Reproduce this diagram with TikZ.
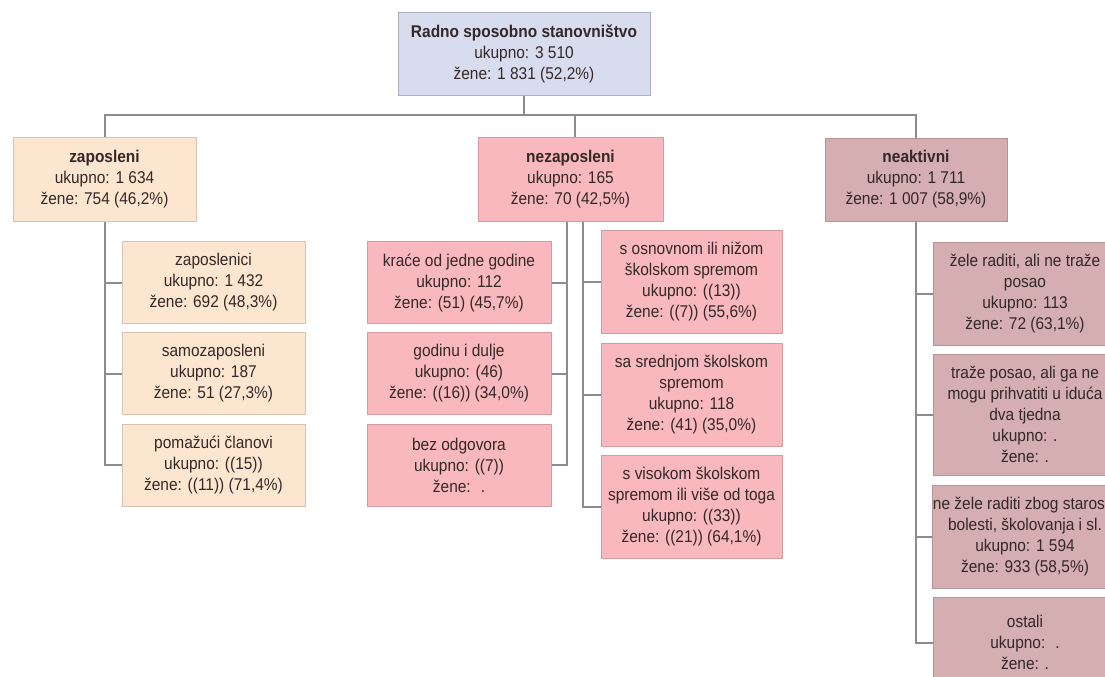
\documentclass[tikz,border=0pt]{standalone}
\usepackage{fontspec}
\setmainfont{Liberation Sans}[FakeStretch=0.91]
\definecolor{topfill}{RGB}{215,220,238}
\definecolor{zapfill}{RGB}{252,230,207}
\definecolor{nezfill}{RGB}{248,184,189}
\definecolor{neakfill}{RGB}{212,174,177}
\definecolor{ink}{RGB}{52,40,40}
\definecolor{linkgray}{RGB}{140,140,140}

\begin{document}
\begin{tikzpicture}[x=0.5pt, y=-0.5pt,
    every box/.style={align=center, inner sep=0pt, text=ink,
      line width=0.5pt, font=\fontsize{8.5}{10.5}\selectfont},
    box top/.style={every box, fill=topfill, draw=topfill!80!black,
      minimum width=126pt, minimum height=41.5pt},
    box zap/.style={every box, fill=zapfill, draw=zapfill!85!black},
    box nez/.style={every box, fill=nezfill, draw=nezfill!85!black},
    box neak/.style={every box, fill=neakfill, draw=neakfill!85!black},
    link/.style={draw=linkgray, line width=1pt}]
  \useasboundingbox (0,0) rectangle (1105,676);
  \coordinate (bus) at (0,115);

  % top and first level
  \node [box top] (top) at (524,53.5)
    {\textbf{Radno sposobno stanovništvo}\\ukupno: 3 510\\žene: 1 831 (52,2\%)};
  \node [box zap, minimum width=91.5pt, minimum height=42pt] (zap) at (104.5,179)
    {\textbf{zaposleni}\\ukupno: 1 634\\žene: 754 (46,2\%)};
  \node [box nez, minimum width=92.5pt, minimum height=42pt] (nez) at (570.5,179)
    {\textbf{nezaposleni}\\ukupno: 165\\žene: 70 (42,5\%)};
  \node [box neak, minimum width=91pt, minimum height=41.5pt] (neak) at (916,179.5)
    {\textbf{neaktivni}\\ukupno: 1 711\\žene: 1 007 (58,9\%)};
  \coordinate (nezL-top) at ([xshift=-1.75pt]nez.south);
  \coordinate (nezR-top) at ([xshift=6.25pt]nez.south);

  % second level
  \foreach \y/\t [count=\i] in {
      282.5/{zaposlenici\\ukupno: 1 432\\žene: 692 (48,3\%)},
      373.5/{samozaposleni\\ukupno: 187\\žene: 51 (27,3\%)},
      465/{pomažući članovi\\ukupno: ((15))\\žene: ((11)) (71,4\%)}}
    \node [box zap, minimum width=91.5pt, minimum height=41pt] (zap-\i) at (213.5,\y) {\t};
  \foreach \y/\t [count=\i] in {
      282.5/{kraće od jedne godine\\ukupno: 112\\žene: (51) (45,7\%)},
      373.5/{godinu i dulje\\ukupno: (46)\\žene: ((16)) (34,0\%)},
      465/{bez odgovora\\ukupno: ((7))\\žene: \ .}}
    \node [box nez, minimum width=92pt, minimum height=41pt] (nezL-\i) at (459,\y) {\t};
  \foreach \y/\t [count=\i] in {
      282/{s osnovnom ili nižom\\školskom spremom\\ukupno: ((13))\\žene: ((7)) (55,6\%)},
      395/{sa srednjom školskom\\spremom\\ukupno: 118\\žene: (41) (35,0\%)},
      507/{s visokom školskom\\spremom ili više od toga\\ukupno: ((33))\\žene: ((21)) (64,1\%)}}
    \node [box nez, minimum width=90.5pt, minimum height=51.5pt] (nezR-\i) at (691.5,\y) {\t};
  \foreach \y/\h/\t [count=\i] in {
      293.5/51.5/{žele raditi, ali ne traže\\posao\\ukupno: 113\\žene: 72 (63,1\%)},
      414.5/60.5/{traže posao, ali ga ne\\mogu prihvatiti u iduća\\dva tjedna\\ukupno: .\\žene: .},
      536.5/51.5/{ne žele raditi zbog starosti,\\bolesti, školovanja i sl.\\ukupno: 1 594\\žene: 933 (58,5\%)},
      642.5/45.5/{ostali\\ukupno: \ .\\žene: .}}
    \node [box neak, minimum width=92pt, minimum height=\h pt] (neak-\i) at (1025,\y) {\t};

  % connectors
  \draw [link] (zap.north) |- (bus -| neak.north) -- (neak.north);
  \draw [link] (top.south) -- (top.south |- bus);
  \draw [link] ([xshift=2.25pt]nez.north) -- ([xshift=2.25pt]nez.north |- bus);
  \foreach \i in {1,2}
    \draw [link] (zap-\i.west) -- (zap-\i.west -| zap.south);
  \draw [link] (zap.south) |- (zap-3.west);
  \foreach \i in {1,2}
    \draw [link] (nezL-\i.east) -- (nezL-\i.east -| nezL-top);
  \draw [link] (nezL-top) |- (nezL-3.east);
  \foreach \i in {1,2}
    \draw [link] (nezR-\i.west) -- (nezR-\i.west -| nezR-top);
  \draw [link] (nezR-top) |- (nezR-3.west);
  \foreach \i in {1,2,3}
    \draw [link] (neak-\i.west) -- (neak-\i.west -| neak.south);
  \draw [link] (neak.south) |- (neak-4.west);
\end{tikzpicture}
\end{document}
